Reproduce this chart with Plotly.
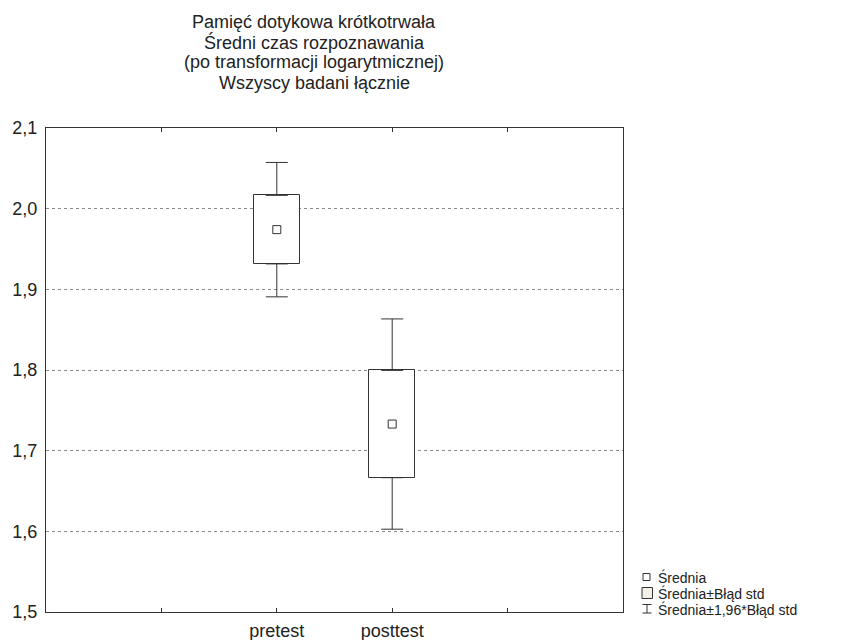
import plotly.graph_objects as go

# ---- data ----
categories = ["pretest", "posttest"]
means = [1.974, 1.733]
std_err = [0.0425, 0.0665]
z_mult = 1.96
y_ticks = [1.5, 1.6, 1.7, 1.8, 1.9, 2.0, 2.1]
title_lines = [
    "Pamięć dotykowa krótkotrwała",
    "Średni czas rozpoznawania",
    "(po transformacji logarytmicznej)",
    "Wszyscy badani łącznie",
]
legend_labels = ["Średnia", "Średnia±Błąd std", "Średnia±1,96*Błąd std"]

# ---- layout geometry (pixels) ----
W, H = 846, 640
L, R, T, B = 46, 223, 128, 28
PW = W - L - R
PH = H - T - B
FONT = "Liberation Sans, Arial, Helvetica, sans-serif"
INK = "#333333"


def px_x(x):
    return (x - L) / PW


def px_y(y):
    return (H - B - y) / PH


x_pos = [i + 1 for i in range(len(categories))]
box_base = [m - s for m, s in zip(means, std_err)]
box_h = [2 * s for s in std_err]
upper = [m + s for m, s in zip(means, std_err)]
lower = [m - s for m, s in zip(means, std_err)]
whisk = [(z_mult - 1) * s for s in std_err]
zeros = [0 for _ in std_err]

fig = go.Figure()

fig.add_trace(go.Bar(
    x=x_pos, y=box_h, base=box_base, width=0.4,
    marker=dict(color="white", line=dict(color=INK, width=1)),
    showlegend=False, hoverinfo="skip",
))

fig.add_trace(go.Scatter(
    x=x_pos, y=upper, mode="markers",
    marker=dict(size=1, color="rgba(0,0,0,0)"),
    error_y=dict(type="data", symmetric=False, array=whisk, arrayminus=zeros,
                 color=INK, thickness=1, width=11),
    showlegend=False, hoverinfo="skip",
))
fig.add_trace(go.Scatter(
    x=x_pos, y=lower, mode="markers",
    marker=dict(size=1, color="rgba(0,0,0,0)"),
    error_y=dict(type="data", symmetric=False, array=zeros, arrayminus=whisk,
                 color=INK, thickness=1, width=11),
    showlegend=False, hoverinfo="skip",
))

fig.add_trace(go.Scatter(
    x=x_pos, y=means, mode="markers",
    marker=dict(symbol="square-open", size=8, color=INK, line=dict(width=1, color=INK)),
    showlegend=False,
))

annotations = []
title_centers = [22.0, 42.2, 62.4, 82.6]
for line, yc in zip(title_lines, title_centers):
    annotations.append(dict(
        text=line, xref="paper", yref="paper", x=px_x(314), y=px_y(yc),
        xanchor="center", yanchor="middle", showarrow=False,
        font=dict(family=FONT, size=18, color="#222222"),
    ))

legend_centers = [577, 593, 609]
for lab, yc in zip(legend_labels, legend_centers):
    annotations.append(dict(
        text=lab, xref="paper", yref="paper", x=px_x(656), y=px_y(yc),
        xanchor="left", yanchor="middle", showarrow=False,
        font=dict(family=FONT, size=14, color="#222222"),
    ))

shapes = [
    # small mean square
    dict(type="rect", xref="paper", yref="paper",
         x0=px_x(643), x1=px_x(650), y0=px_y(580.5), y1=px_y(573.5),
         line=dict(color=INK, width=1), fillcolor="white"),
    # SE box
    dict(type="rect", xref="paper", yref="paper",
         x0=px_x(642), x1=px_x(652.5), y0=px_y(598.5), y1=px_y(587.5),
         line=dict(color=INK, width=1), fillcolor="#f4f0e6"),
    # whisker symbol
    dict(type="line", xref="paper", yref="paper",
         x0=px_x(647), x1=px_x(647), y0=px_y(604.5), y1=px_y(613),
         line=dict(color=INK, width=1)),
    dict(type="line", xref="paper", yref="paper",
         x0=px_x(642.5), x1=px_x(651.5), y0=px_y(604.5), y1=px_y(604.5),
         line=dict(color=INK, width=1)),
    dict(type="line", xref="paper", yref="paper",
         x0=px_x(642.5), x1=px_x(651.5), y0=px_y(613), y1=px_y(613),
         line=dict(color=INK, width=1)),
]

fig.update_layout(
    width=W, height=H,
    margin=dict(l=L, r=R, t=T, b=B, pad=0, autoexpand=False),
    paper_bgcolor="white", plot_bgcolor="white",
    separators=", ",
    font=dict(family=FONT, size=18, color="#222222"),
    annotations=annotations, shapes=shapes,
    showlegend=False,
    bargap=0,
)

fig.update_xaxes(
    range=[-1, 4],
    tickvals=[0] + x_pos + [len(categories) + 1],
    ticktext=[""] + categories + [""],
    ticks="inside", ticklen=4, tickcolor=INK, tickwidth=1,
    showline=True, linecolor=INK, linewidth=1, mirror="ticks",
    showgrid=False, zeroline=False, automargin=False,
    tickfont=dict(family=FONT, size=18, color="#222222"),
    ticklabelstandoff=2,
)
fig.update_yaxes(
    range=[1.5, 2.1],
    tickvals=y_ticks, tickformat=".1f",
    ticks="", showline=True, linecolor=INK, linewidth=1, mirror=True,
    showgrid=True, gridcolor="#8a8a8a", gridwidth=1, griddash="3px,3px",
    zeroline=False, automargin=False,
    tickfont=dict(family=FONT, size=18, color="#222222"),
    ticklabelstandoff=4,
)

fig.write_html("out.html")
